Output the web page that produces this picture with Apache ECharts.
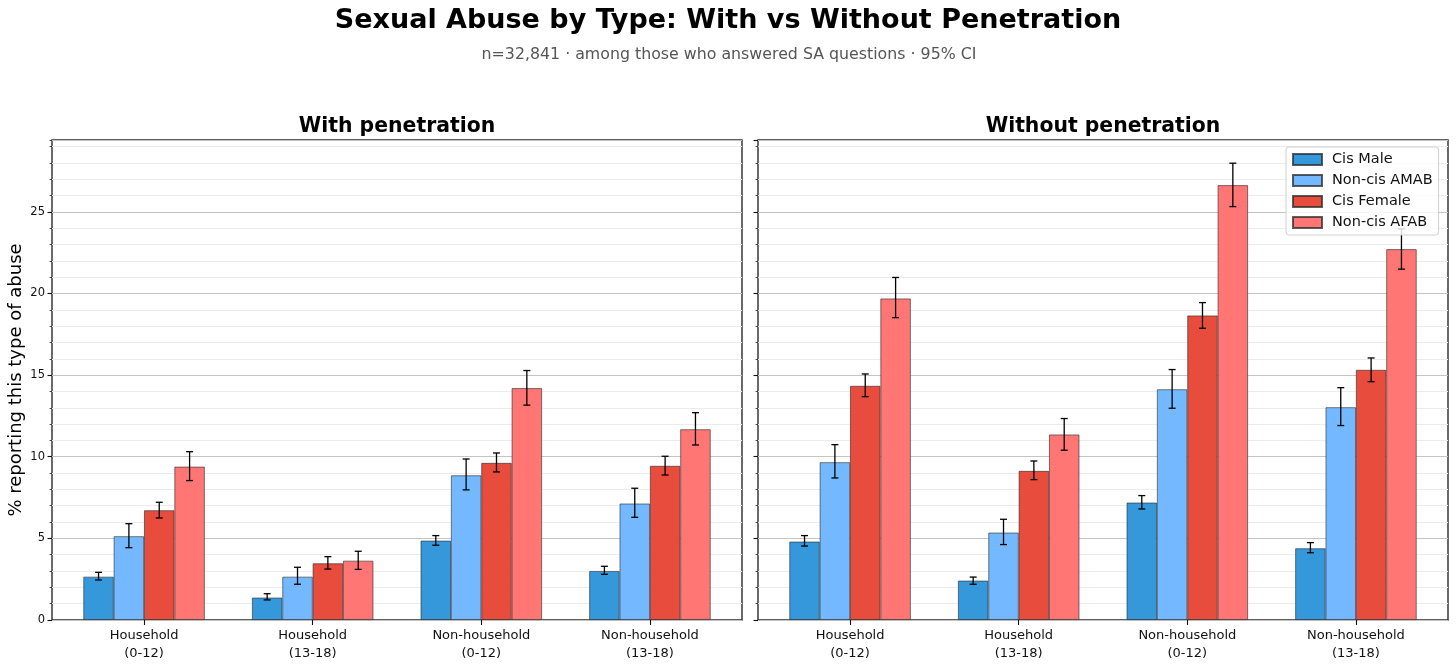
<!DOCTYPE html>
<html><head><meta charset="utf-8">
<script src="https://cdn.jsdelivr.net/npm/echarts@6/dist/echarts.min.js"></script>
<style>html,body{margin:0;padding:0;background:#fff}#c{width:1456px;height:664px}</style>
</head><body><div id="c"></div>
<script>
const categories = ['Household\n(0-12)', 'Household\n(13-18)', 'Non-household\n(0-12)', 'Non-household\n(13-18)'];
const groups = ['Cis Male', 'Non-cis AMAB', 'Cis Female', 'Non-cis AFAB'];
const colors = ['#3498db', '#74b9ff', '#e74c3c', '#ff7675'];
const yTicksMajor = [0, 5, 10, 15, 20, 25];

// With penetration
const penCisMale      = [2.65, 1.37, 4.86, 3.00];
const penCisMaleLo    = [2.45, 1.23, 4.58, 2.80];
const penCisMaleHi    = [2.92, 1.61, 5.17, 3.29];
const penAMAB         = [5.13, 2.65, 8.86, 7.13];
const penAMABLo       = [4.43, 2.19, 7.97, 6.29];
const penAMABHi       = [5.90, 3.23, 9.86, 8.07];
const penCisFemale    = [6.72, 3.47, 9.62, 9.44];
const penCisFemaleLo  = [6.25, 3.12, 9.07, 8.88];
const penCisFemaleHi  = [7.21, 3.88, 10.23, 10.03];
const penAFAB         = [9.39, 3.63, 14.20, 11.68];
const penAFABLo       = [8.54, 3.10, 13.16, 10.72];
const penAFABHi       = [10.31, 4.21, 15.28, 12.70];

// Without penetration
const nopCisMale      = [4.80, 2.41, 7.19, 4.39];
const nopCisMaleLo    = [4.53, 2.19, 6.80, 4.12];
const nopCisMaleHi    = [5.17, 2.63, 7.62, 4.74];
const nopAMAB         = [9.66, 5.35, 14.13, 13.03];
const nopAMABLo       = [8.70, 4.62, 12.97, 11.91];
const nopAMABHi       = [10.74, 6.17, 15.34, 14.23];
const nopCisFemale    = [14.34, 9.13, 18.65, 15.32];
const nopCisFemaleLo  = [13.68, 8.60, 17.87, 14.60];
const nopCisFemaleHi  = [15.07, 9.74, 19.44, 16.05];
const nopAFAB         = [19.69, 11.36, 26.63, 22.71];
const nopAFABLo       = [18.52, 10.40, 25.32, 21.49];
const nopAFABHi       = [20.98, 12.34, 27.98, 23.96];

const penVals = [penCisMale, penAMAB, penCisFemale, penAFAB];
const penLo = [penCisMaleLo, penAMABLo, penCisFemaleLo, penAFABLo];
const penHi = [penCisMaleHi, penAMABHi, penCisFemaleHi, penAFABHi];
const nopVals = [nopCisMale, nopAMAB, nopCisFemale, nopAFAB];
const nopLo = [nopCisMaleLo, nopAMABLo, nopCisFemaleLo, nopAFABLo];
const nopHi = [nopCisMaleHi, nopAMABHi, nopCisFemaleHi, nopAFABHi];

const YMAX = 29.4;
const FONT = 'DejaVu Sans';
const BARFRAC = 0.18;

const chart = echarts.init(document.getElementById('c'), null, {renderer: 'canvas'});

const frameW = 690, frameTop = 140, frameH = 480;
const frameLefts = [52, 758];
const padUnits = 0.046; // matplotlib margin beyond half band
const bandW = frameW / 4.092;
const barGridOff = padUnits * bandW;

const grids = [], xAxes = [], yAxes = [], series = [];
frameLefts.forEach((fl, p) => {
  grids.push({left: fl, top: frameTop, width: frameW, height: frameH, show: true,
    borderColor: '#2b2b2b', borderWidth: 1.4, backgroundColor: 'transparent', containLabel: false});
  grids.push({left: fl + barGridOff, top: frameTop, width: frameW - 2 * barGridOff, height: frameH, containLabel: false});
  const g0 = p * 2, g1 = p * 2 + 1;
  xAxes.push({gridIndex: g0, type: 'value', min: 0, max: 1, show: false});
  xAxes.push({gridIndex: g1, type: 'category', data: categories,
    axisLine: {show: false},
    axisTick: {show: true, alignWithLabel: true, length: 5, lineStyle: {color: '#111', width: 1.1}},
    axisLabel: {fontFamily: FONT, fontSize: 13, color: '#111', lineHeight: 18, margin: 7},
    splitLine: {show: false}});
  // minor axis
  yAxes.push({gridIndex: g0, type: 'value', min: 0, max: YMAX, interval: 1, position: 'left',
    axisLine: {show: false}, axisLabel: {show: false},
    axisTick: {show: true, length: 2.5, lineStyle: {color: '#222', width: 0.8}},
    splitLine: {show: true, lineStyle: {color: '#ececec', width: 1}}});
  // major axis
  yAxes.push({gridIndex: g0, type: 'value', min: 0, max: YMAX, interval: 5, position: 'left',
    axisLine: {show: false},
    axisLabel: {show: p === 0, showMaxLabel: false, fontFamily: FONT, fontSize: 11.5, color: '#111', margin: 7},
    axisTick: {show: true, length: 4.5, lineStyle: {color: '#111', width: 1.1}},
    splitLine: {show: true, lineStyle: {color: '#c4c4c4', width: 1}}});
  // bar axis
  yAxes.push({gridIndex: g1, type: 'value', min: 0, max: YMAX, show: false, splitLine: {show: false}});
  const xi = p * 2 + 1, yi = p * 3 + 2;
  const vals = p === 0 ? penVals : nopVals;
  const los = p === 0 ? penLo : nopLo;
  const his = p === 0 ? penHi : nopHi;
  groups.forEach((gname, k) => {
    series.push({type: 'bar', name: gname, xAxisIndex: xi, yAxisIndex: yi,
      data: vals[k], barWidth: bandW * BARFRAC, barGap: '0%',
      itemStyle: {color: colors[k], borderColor: 'rgba(40,40,40,0.75)', borderWidth: 0.8},
      emphasis: {disabled: true}, animation: false, z: 2});
  });
  const ebData = [];
  groups.forEach((gname, k) => {
    categories.forEach((c, i) => ebData.push([i, k, los[k][i], his[k][i]]));
  });
  series.push({type: 'custom', name: 'err' + p, xAxisIndex: xi, yAxisIndex: yi, z: 3,
    data: ebData, encode: {x: 0, y: [2, 3]}, animation: false, silent: true,
    renderItem: function (params, api) {
      const c = api.value(0), k = api.value(1), lo = api.value(2), hi = api.value(3);
      const band = api.size([1, 0])[0];
      const bw = band * BARFRAC;
      const a = api.coord([c, lo]), b = api.coord([c, hi]);
      const x = a[0] + (k - 1.5) * bw;
      const st = {stroke: '#000', lineWidth: 1.3};
      const cap = 3.5;
      return {type: 'group', children: [
        {type: 'line', shape: {x1: x, y1: a[1], x2: x, y2: b[1]}, style: st},
        {type: 'line', shape: {x1: x - cap, y1: a[1], x2: x + cap, y2: a[1]}, style: st},
        {type: 'line', shape: {x1: x - cap, y1: b[1], x2: x + cap, y2: b[1]}, style: st}
      ]};
    }});
});

const option = {
  backgroundColor: '#fff',
  animation: false,
  grid: grids, xAxis: xAxes, yAxis: yAxes, series: series,
  legend: {
    data: groups.map(n => ({name: n, icon: 'rect'})), orient: 'vertical', left: 1286, top: 147,
    itemWidth: 29, itemHeight: 11, itemGap: 6,
    padding: [5, 6, 5, 6],
    backgroundColor: 'rgba(255,255,255,0.82)', borderColor: '#d0d0d0', borderWidth: 1, borderRadius: 3,
    textStyle: {fontFamily: FONT, fontSize: 14.5, color: '#111', padding: [0, 0, 0, 5]},
    selectedMode: false, z: 10
  },
  graphic: [
    {type: 'text', x: 728, y: 21, style: {text: 'Sexual Abuse by Type: With vs Without Penetration',
      font: 'bold 27px "DejaVu Sans"', fill: '#000', textAlign: 'center', textVerticalAlign: 'middle'}},
    {type: 'text', x: 729, y: 55, style: {text: 'n=32,841 · among those who answered SA questions · 95% CI',
      font: '15.8px "DejaVu Sans"', fill: '#555', textAlign: 'center', textVerticalAlign: 'middle'}},
    {type: 'text', x: 397, y: 127, style: {text: 'With penetration', font: 'bold 20.4px "DejaVu Sans"', fill: '#000',
      textAlign: 'center', textVerticalAlign: 'middle'}},
    {type: 'text', x: 1103, y: 127, style: {text: 'Without penetration', font: 'bold 20.4px "DejaVu Sans"', fill: '#000',
      textAlign: 'center', textVerticalAlign: 'middle'}},
    {type: 'text', x: 16, y: 380, rotation: Math.PI / 2, style: {text: '% reporting this type of abuse',
      font: '18px "DejaVu Sans"', fill: '#000', textAlign: 'center', textVerticalAlign: 'middle'}}
  ]
};
chart.setOption(option);
</script></body></html>
